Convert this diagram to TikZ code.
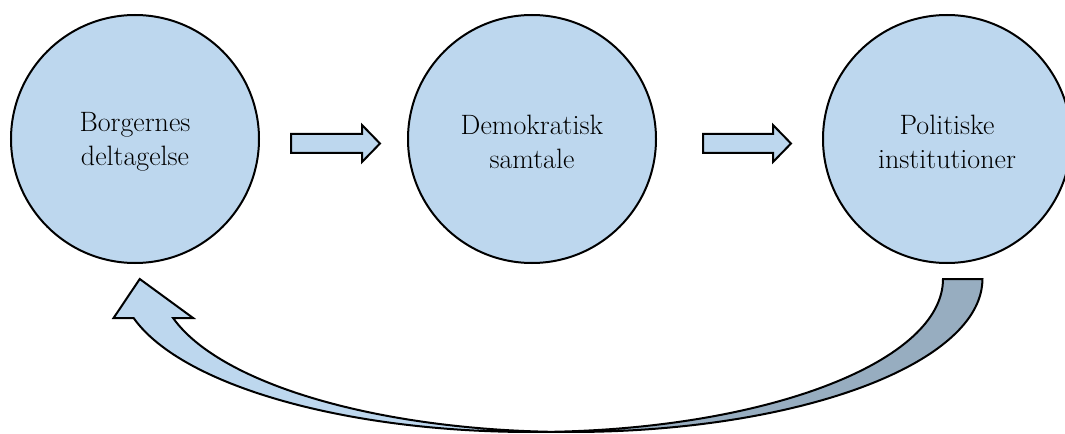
\documentclass[tikz,border=0pt]{standalone}
\definecolor{fillblue}{RGB}{189,215,238}
\definecolor{shadeblue}{RGB}{151,173,192}
\begin{document}
\begin{tikzpicture}[x=0.75pt,y=0.75pt,
  circ/.style={circle,draw=black,line width=1.5pt,fill=fillblue,minimum size=186pt,inner sep=0pt},
  lbl/.style={align=center,inner sep=0pt,font=\fontsize{21}{25.5}\selectfont},
  blockarrow/.style={draw=black,line width=1.5pt,fill=fillblue,line join=miter},
  outline/.style={draw=black,line width=1.5pt,line join=miter},
  ell/.style={x radius=308.625pt,y radius=114.75pt}]
\useasboundingbox (0,0) rectangle (1065,433);
% circles
\node[circ] (c1) at (135,294) {};
\node[circ] (c2) at (532,294) {};
\node[circ] (c3) at (947,294) {};
% labels
\node[lbl] (t1) at (135,291) {Borgernes\\deltagelse};
\node[lbl] (t2) at (532,291) {Demokratisk\\samtale};
\node[lbl] (t3) at (947,291) {Politiske\\institutioner};
% block arrows
\draw[blockarrow] (291,299) -- (362,299) -- (362,308) -- (380,289.5) -- (362,271) -- (362,280) -- (291,280) -- cycle;
\draw[blockarrow] (703,299) -- (773,299) -- (773,308) -- (791,289.5) -- (773,271) -- (773,280) -- (703,280) -- cycle;
% curved arrow: light part (head side)
\fill[fillblue] (139.75,154) -- (113.6,115) -- (133.59,115)
  arc[ell,start angle=194.769,end angle=272.751]
  arc[ell,start angle=267.249,end angle=194.769]
  -- (193.1,115) -- cycle;
% curved arrow: shaded part (tail side)
\fill[shadeblue] (943,154) arc[ell,start angle=0,end angle=-87.249]
  arc[ell,start angle=267.249,end angle=360] -- cycle;
% outline
\draw[outline] (139.75,154) -- (113.6,115) -- (133.59,115)
  arc[ell,start angle=194.769,end angle=272.751]
  arc[ell,start angle=267.249,end angle=360]
  -- (943,154)
  arc[ell,start angle=0,end angle=-87.249]
  arc[ell,start angle=267.249,end angle=194.769]
  -- (193.1,115) -- cycle;
\end{tikzpicture}
\end{document}
